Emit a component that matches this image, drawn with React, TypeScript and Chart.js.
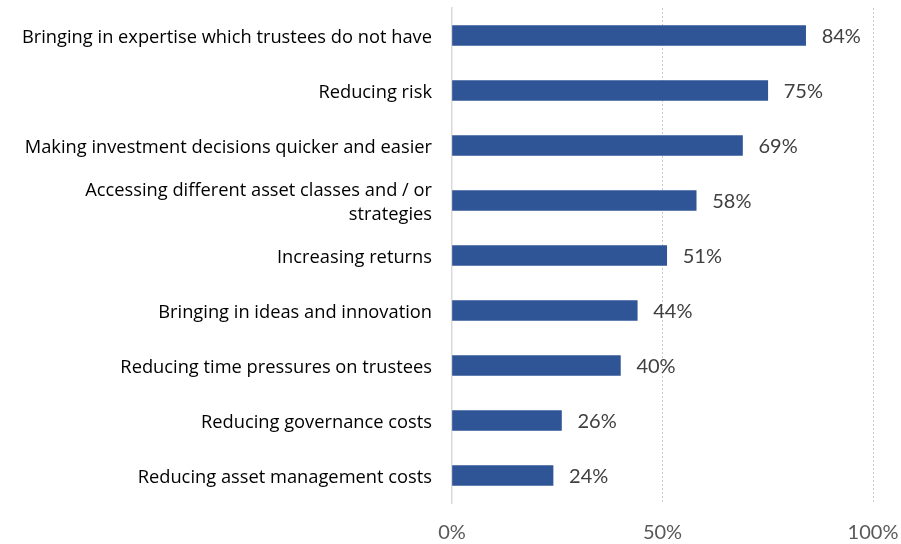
import React, { useEffect, useRef } from "react";
import { Chart, registerables } from "chart.js";

Chart.register(...registerables);

const categories: (string | string[])[] = [
  "Bringing in expertise which trustees do not have",
  "Reducing risk",
  "Making investment decisions quicker and easier",
  ["Accessing different asset classes and / or", "strategies"],
  "Increasing returns",
  "Bringing in ideas and innovation",
  "Reducing time pressures on trustees",
  "Reducing governance costs",
  "Reducing asset management costs",
];
const values = [84, 75, 69, 58, 51, 44, 40, 26, 24];
const xTicks = [0, 50, 100];

const NUM_FONT = "Lato, 'Open Sans', sans-serif";
const CAT_FONT = "'Open Sans', 'Noto Sans', sans-serif";

const labelPlugin = {
  id: "barLabels",
  afterDatasetsDraw(chart: any) {
    const ctx = chart.ctx;
    const meta = chart.getDatasetMeta(0);
    ctx.save();
    ctx.font = `20px ${NUM_FONT}`;
    ctx.fillStyle = "#404040";
    ctx.textAlign = "left";
    ctx.textBaseline = "middle";
    meta.data.forEach((bar: any, i: number) => {
      ctx.fillText(values[i] + "%", bar.x + 16, bar.y + 1);
    });
    ctx.restore();
  },
};

export default function App() {
  const ref = useRef<HTMLCanvasElement>(null);
  useEffect(() => {
    if (!ref.current) return;
    const chart = new Chart(ref.current, {
      type: "bar",
      data: {
        labels: categories,
        datasets: [
          {
            data: values,
            backgroundColor: "#2F5597",
            barThickness: 20,
          },
        ],
      },
      options: {
        indexAxis: "y",
        animation: false,
        responsive: false,
        maintainAspectRatio: false,
        layout: { padding: { top: 8, right: 28, bottom: 2, left: 0 } },
        plugins: { legend: { display: false }, tooltip: { enabled: false } },
        scales: {
          x: {
            min: 0,
            max: 100,
            afterBuildTicks: (scale: any) => {
              scale.ticks = xTicks.map((v) => ({ value: v }));
            },
            afterFit: (scale: any) => {
              scale.paddingLeft = 0;
              scale.paddingRight = 0;
              scale.height = 39;
            },
            grid: {
              color: (c: any) => (c.index === 0 ? "rgba(0,0,0,0)" : "#c8c8c8"),
              lineWidth: 1,
              drawTicks: false,
            } as any,
            border: { display: false, dash: [2, 2] } as any,
            ticks: {
              padding: 18,
              color: "#595959",
              font: { family: NUM_FONT, size: 20 },
              callback: (v: any) => v + "%",
            },
          },
          y: {
            afterFit: (scale: any) => {
              scale.width = 452;
              scale.paddingTop = 0;
              scale.paddingBottom = 0;
            },
            grid: { display: false, drawTicks: false },
            border: { display: true, color: "#d9d9d9", width: 1.5 },
            ticks: {
              padding: 20,
              labelOffset: 2,
              color: "#000000",
              font: { family: CAT_FONT, size: 18.3, lineHeight: 1.31 },
            },
          },
        },
      },
      plugins: [labelPlugin],
    });
    return () => chart.destroy();
  }, []);
  return (
    <div style={{ position: "fixed", left: 0, top: 0, width: 901, height: 544, background: "#fff" }}>
      <canvas ref={ref} width={901} height={544} style={{ width: 901, height: 544 }} />
    </div>
  );
}
